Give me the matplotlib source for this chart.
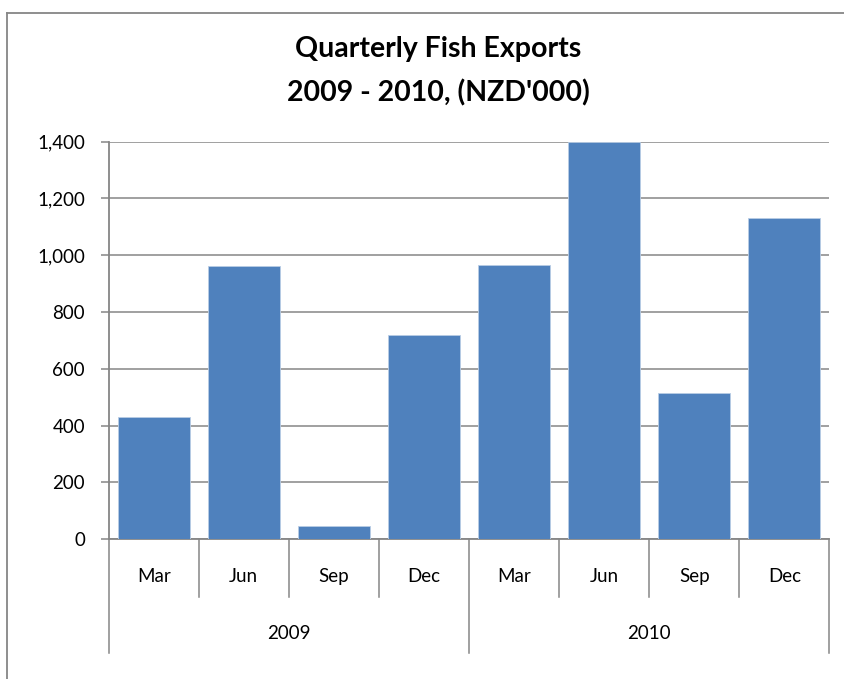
import matplotlib
matplotlib.use("Agg")
import matplotlib.pyplot as plt
from matplotlib.lines import Line2D
from matplotlib.ticker import FuncFormatter, MultipleLocator

# Quarterly fish export values (NZD '000)
years = ["2009", "2010"]
quarters = ["Mar", "Jun", "Sep", "Dec"]
exports_2009 = [431, 964, 46, 721]
exports_2010 = [966, 1400, 516, 1130]

values = exports_2009 + exports_2010
month_labels = quarters * len(years)

BAR_COLOR = "#4F81BD"
LINE_COLOR = "#868686"
FONT = ["Lato", "DejaVu Sans"]
LABEL_SIZE = 13.5

plt.rcParams["font.family"] = FONT

W, H = 844, 679
fig = plt.figure(figsize=(W / 100, H / 100), dpi=100)

# Chart frame (top and left edges visible)
fig.add_artist(Line2D([7 / W, 7 / W], [0, 1 - 13 / H], transform=fig.transFigure,
                      color=LINE_COLOR, lw=1.3))
fig.add_artist(Line2D([7 / W, 1], [1 - 13 / H, 1 - 13 / H], transform=fig.transFigure,
                      color=LINE_COLOR, lw=1.3))

left, right = 108.7 / W, 829.3 / W
bottom, top = 1 - 539.3 / H, 1 - 141.7 / H
ax = fig.add_axes([left, bottom, right - left, top - bottom])

x = list(range(len(values)))
ax.bar(x, values, width=0.8, color=BAR_COLOR, edgecolor="#B9CDE5", linewidth=0.6, zorder=3)

ax.set_xlim(-0.5, len(values) - 0.5)
ax.set_ylim(0, 1400)
ax.yaxis.set_major_locator(MultipleLocator(200))
ax.yaxis.set_major_formatter(FuncFormatter(lambda v, p: f"{int(v):,}"))
ax.grid(axis="y", color=LINE_COLOR, lw=1.1, zorder=0)
ax.set_axisbelow(True)

for s in ["top", "right"]:
    ax.spines[s].set_visible(False)
for s in ["left", "bottom"]:
    ax.spines[s].set_color(LINE_COLOR)
    ax.spines[s].set_linewidth(1.3)

ax.tick_params(axis="y", length=6, width=1.1, color=LINE_COLOR, pad=11,
               labelsize=LABEL_SIZE, labelcolor="black")
ax.set_xticks([])

# Two-level category axis: months above years, separated by divider lines
trans = ax.get_xaxis_transform()
month_depth = -0.145
year_depth = -0.286
for k in range(len(values) + 1):
    xb = k - 0.5
    is_year_edge = k % len(quarters) == 0
    ax.plot([xb, xb], [0, year_depth if is_year_edge else month_depth],
            transform=trans, color=LINE_COLOR, lw=1.1, clip_on=False)
for xi, lab in zip(x, month_labels):
    ax.text(xi, -0.093, lab, transform=trans, ha="center", va="center", fontsize=LABEL_SIZE)
for i, yr in enumerate(years):
    xc = i * len(quarters) + (len(quarters) - 1) / 2
    ax.text(xc, -0.236, yr, transform=trans, ha="center", va="center", fontsize=LABEL_SIZE)

title_x = 438 / W
fig.text(title_x, 1 - 49 / H, "Quarterly Fish Exports", ha="center", va="center",
         fontsize=20.5, fontweight="bold")
fig.text(title_x, 1 - 93 / H, "2009 - 2010, (NZD'000)", ha="center", va="center",
         fontsize=20.5, fontweight="bold")

fig.savefig("out.png", dpi=100, facecolor="white")
